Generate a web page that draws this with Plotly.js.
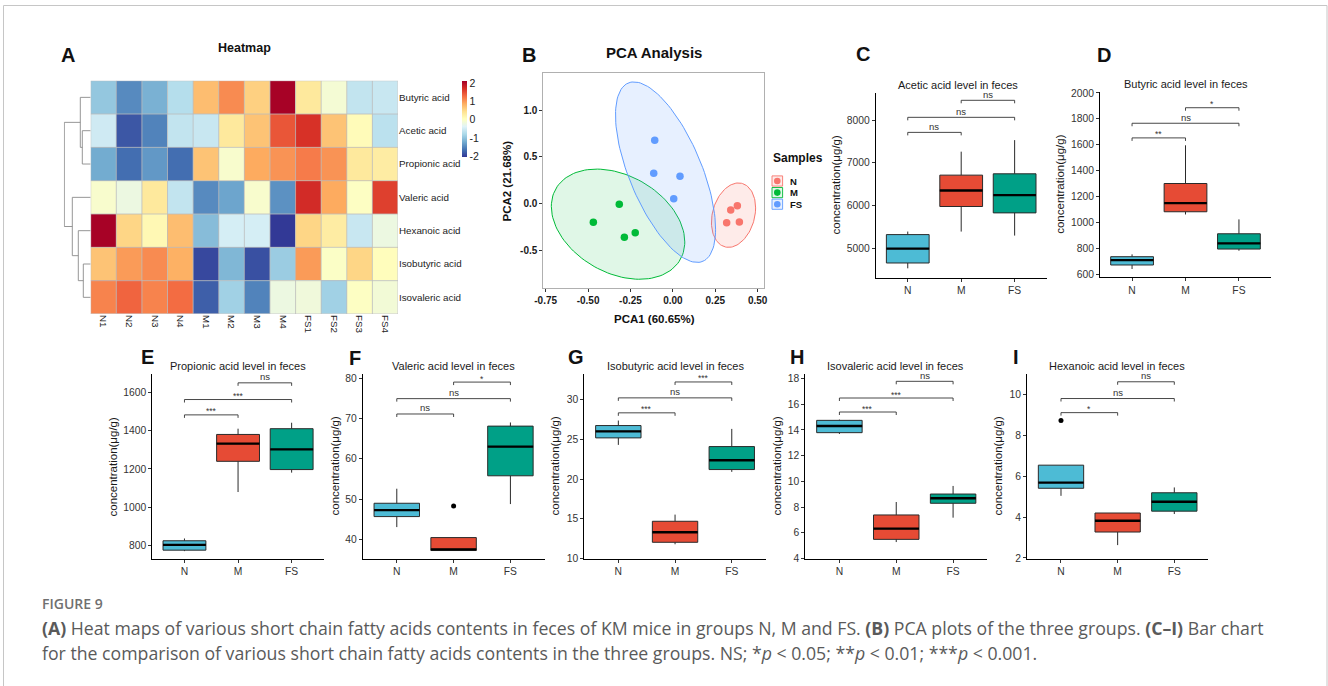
<!DOCTYPE html>
<html><head><meta charset="utf-8">
<script src="https://cdn.plot.ly/plotly-3.0.1.min.js"></script>
<style>html,body{margin:0;padding:0;background:#fff;}#chart{width:1328px;height:686px;}</style>
</head><body><div id="chart"></div>
<script>
// ================= DATA =================
// Heatmap (row z-scores)
const samples = ['N1','N2','N3','N4','M1','M2','M3','M4','FS1','FS2','FS3','FS4'];
const acids = ['Butyric acid','Acetic acid','Propionic acid','Valeric acid','Hexanoic acid','Isobutyric acid','Isovaleric acid'];
const zButyric    = [-0.95,-1.45,-1.15,-0.70, 0.75, 1.10, 0.60, 2.10, 0.35,-0.10,-0.60,-0.55];
const zAcetic     = [-0.50,-1.80,-1.50,-0.60,-0.55, 0.35, 0.70, 1.45, 1.70, 0.70, 0.10,-0.65];
const zPropionic  = [-1.20,-1.65,-1.35,-1.65, 0.70,-0.05, 0.90, 1.05, 1.20, 1.05, 0.35, 0.30];
const zValeric    = [-0.05,-0.20, 0.35,-0.60,-1.45,-1.25,-0.05,-1.40, 1.75, 0.90, 0.02, 1.60];
const zHexanoic   = [ 2.10, 0.55, 0.15, 0.75,-1.05,-0.45,-0.45,-2.00, 0.55, 0.30,-0.55,-0.20];
const zIsobutyric = [ 0.70, 1.00, 1.10, 0.85,-1.90,-1.10,-1.85,-0.90, 1.00, 0.00, 0.55, 0.08];
const zIsovaleric = [ 1.15, 1.35, 1.15, 1.30,-1.75,-0.85,-1.50,-0.20,-0.15,-0.85, 0.02,-0.12];
const zRows = [zButyric,zAcetic,zPropionic,zValeric,zHexanoic,zIsobutyric,zIsovaleric];
// Row dendrogram (hclust-style merges; negative = leaf, 1-based in display order)
const rowMerges  = [[-2,-3],[-1,1],[-6,-7],[-5,3],[-4,4],[2,5]];
const rowHeights = [8.4,10.4,7.4,12.4,18.4,26.4];
const colorTicks = [-2,-1,0,1,2];

// PCA scores
const pcaGroups = ['N','M','FS'];
const pc1N  = [0.317,0.341,0.380,0.392], pc2N  = [-0.205,-0.069,-0.022,-0.197];
const pc1M  = [-0.469,-0.316,-0.286,-0.222], pc2M = [-0.200,-0.007,-0.361,-0.312];
const pc1FS = [-0.107,-0.113,0.042,0.005], pc2FS = [0.678,0.325,0.293,0.053];
const pcaXTicks = [-0.75,-0.5,-0.25,0,0.25,0.5];
const pcaYTicks = [-0.5,0,0.5,1.0];

// Box plots: [N, M, FS]
const groups = ['N','M','FS'];
const aceticStats     = {lo:[4531,5391,5297], q1:[4656,5977,5828], med:[4992,6352,6242], q3:[5320,6711,6742], hi:[5391,7260,7530]};
const butyricStats    = {lo:[641,1062,782],   q1:[672,1083,795],   med:[710,1149,839],   q3:[736,1301,913],   hi:[754,1596,1024]};
const propionicStats  = {lo:[772,1080,1181],  q1:[777,1240,1197],  med:[805,1332,1302],  q3:[826,1380,1410],  hi:[838,1410,1441]};
const valericStats    = {lo:[43.1,37.3,48.8], q1:[45.7,37.3,55.8], med:[47.3,37.6,63.0], q3:[49.0,40.5,68.1], hi:[52.6,40.5,69.0]};
const isobutyricStats = {lo:[24.29,11.80,20.90], q1:[25.17,12.05,21.19], med:[26.0,13.31,22.36], q3:[26.72,14.69,24.08], hi:[27.35,15.53,26.30]};
const isovalericStats = {lo:[13.69,5.27,7.17], q1:[13.79,5.48,8.29], med:[14.31,6.31,8.68], q3:[14.75,7.38,9.01], hi:[14.81,8.39,9.64]};
const hexanoicStats   = {lo:[5.04,2.63,4.15], q1:[5.41,3.27,4.29], med:[5.69,3.82,4.75], q3:[6.54,4.20,5.19], hi:[6.54,4.20,5.45]};
const valericOutliers  = {g:[1], v:[48.3]};
const hexanoicOutliers = {g:[0], v:[8.73]};
// significance brackets: pairs N-M, N-FS, M-FS
const bracketPairs = [[0,1],[0,2],[1,2]];
const aceticBr = [7711,8063,8461],   aceticSig = ['ns','ns','ns'];
const butyricBr = [1653,1766,1886],  butyricSig = ['**','ns','*'];
const propionicBr = [1482,1562,1649],propionicSig = ['***','***','ns'];
const valericBr = [71.1,74.9,79.0],  valericSig = ['ns','ns','*'];
const isobutyricBr = [28.32,30.2,32.2], isobutyricSig = ['***','ns','***'];
const isovalericBr = [15.40,16.49,17.79], isovalericSig = ['***','***','ns'];
const hexanoicBr = [9.11,9.80,10.62], hexanoicSig = ['*','ns','ns'];

// ================= STYLE / LAYOUT =================
const W = 1328, H = 686;
const PX = v => v / W, PY = v => 1 - v / H;
const dom = (a, b) => [PX(a), PX(b)];
const domY = (a, b) => [PY(b), PY(a)];
const FONT = 'Liberation Sans, Arial, Helvetica, sans-serif';
const CAPFONT = 'Open Sans, Lato, sans-serif';
const groupCol = ['#4DBBD5','#E64B35','#00A087'];
const pcaCol = ['#F8766D','#00BA38','#619CFF'];
const pcaFill = ['rgba(248,118,109,0.15)','rgba(0,186,56,0.12)','rgba(97,156,255,0.15)'];
const rdylbu = ['#313695','#4575B4','#74ADD1','#ABD9E9','#E0F3F8','#FFFFBF','#FEE090','#FDAE61','#F46D43','#D73027','#A50026'];

const traces = [], shapes = [], annotations = [];
const layout = {
  width: W, height: H, margin: {l:0,r:0,t:0,b:0}, paper_bgcolor: '#fff', plot_bgcolor: 'rgba(0,0,0,0)',
  showlegend: false, font: {family: FONT, color: '#222'}
};
const ann = (o) => annotations.push(Object.assign({xref:'paper', yref:'paper', showarrow:false, xanchor:'center', yanchor:'middle'}, o));

// ---------- A: heatmap ----------
const heatG = {x:[90.7,398], y:[80.7,314]};
traces.push({
  type:'heatmap', z: zRows, x: samples.map((_, i) => i), y: acids.map((_, j) => j),
  zmin: -2.02, zmax: 2.12, xaxis:'x', yaxis:'y', hoverinfo:'skip',
  colorscale: rdylbu.map((c, i) => [i / (rdylbu.length - 1), c]),
  colorbar: {x: PX(461.5), xanchor:'left', xpad:0, y: PY(118.7), yanchor:'middle', ypad:0,
    len: 76, lenmode:'pixels', thickness: 5, thicknessmode:'pixels', outlinewidth: 0,
    tickvals: colorTicks, ticktext: colorTicks.map(String), ticks:'', ticklabelposition:'outside',
    tickfont:{size:10.5, color:'#222', family:FONT}}
});
layout.xaxis = {domain: dom(...heatG.x), anchor:'y', range:[-0.5, samples.length - 0.5], tickvals: samples.map((_, i) => i),
  ticktext: samples, tickangle: 90, ticks:'', showline:false, showgrid:false, zeroline:false,
  tickfont:{size:9.8, color:'#222'}, fixedrange:true};
layout.yaxis = {domain: domY(...heatG.y), anchor:'x', side:'right', range:[acids.length - 0.5, -0.5],
  tickvals: acids.map((_, j) => j), ticktext: acids, ticks:'', showline:false, showgrid:false, zeroline:false,
  tickfont:{size:9.8, color:'#222'}, fixedrange:true};
// cell borders
for (let i = 0; i <= samples.length; i++)
  shapes.push({type:'line', xref:'x', yref:'y', x0:i-0.5, x1:i-0.5, y0:-0.5, y1:acids.length-0.5, line:{color:'#bcbcbc', width:0.8}});
for (let j = 0; j <= acids.length; j++)
  shapes.push({type:'line', xref:'x', yref:'y', x0:-0.5, x1:samples.length-0.5, y0:j-0.5, y1:j-0.5, line:{color:'#bcbcbc', width:0.8}});
// dendrogram
(function(){
  const pos = [], hgt = [];
  const node = k => k < 0 ? {p: -k - 1, h: 0} : {p: pos[k-1], h: hgt[k-1]};
  const dx = [], dy = [];
  rowMerges.forEach((m, i) => {
    const a = node(m[0]), b = node(m[1]), h = rowHeights[i];
    pos.push((a.p + b.p) / 2); hgt.push(h);
    dx.push(a.h, h, h, b.h, null); dy.push(a.p, a.p, b.p, b.p, null);
  });
  traces.push({type:'scatter', mode:'lines', x: dx, y: dy, xaxis:'x2', yaxis:'y', hoverinfo:'skip',
    line:{color:'#8a8a8a', width:0.9}});
  const maxH = Math.max(...rowHeights);
  layout.xaxis2 = {domain: dom(63.8, 90.7), anchor:'y', range:[maxH + 0.5, 0], visible:false, fixedrange:true};
})();
ann({x: PX(244.7), y: PY(48), text:'<b>Heatmap</b>', font:{size:12.5, color:'#111'}});

// ---------- B: PCA ----------
const pcaG = {x:[543.3,764.3], y:[72.7,288.3]};
const pcaX = [pc1N, pc1M, pc1FS], pcaY = [pc2N, pc2M, pc2FS];
const ellipseK = Math.sqrt(14.1);
pcaGroups.forEach((g, gi) => {
  const xs = pcaX[gi], ys = pcaY[gi], n = xs.length;
  const mx = xs.reduce((s, v) => s + v, 0) / n, my = ys.reduce((s, v) => s + v, 0) / n;
  let sxx = 0, syy = 0, sxy = 0;
  for (let i = 0; i < n; i++) { sxx += (xs[i]-mx)**2; syy += (ys[i]-my)**2; sxy += (xs[i]-mx)*(ys[i]-my); }
  sxx /= n - 1; syy /= n - 1; sxy /= n - 1;
  const l11 = Math.sqrt(sxx), l21 = sxy / l11, l22 = Math.sqrt(syy - l21 * l21);
  const ex = [], ey = [];
  for (let k = 0; k <= 120; k++) {
    const t = 2 * Math.PI * k / 120, u = Math.cos(t), v = Math.sin(t);
    ex.push(mx + ellipseK * l11 * u); ey.push(my + ellipseK * (l21 * u + l22 * v));
  }
  traces.push({type:'scatter', mode:'lines', x: ex, y: ey, xaxis:'x3', yaxis:'y3', fill:'toself',
    fillcolor: pcaFill[gi], line:{color: pcaCol[gi], width:1}, hoverinfo:'skip'});
});
pcaGroups.forEach((g, gi) => {
  traces.push({type:'scatter', mode:'markers', x: pcaX[gi], y: pcaY[gi], xaxis:'x3', yaxis:'y3',
    marker:{color: pcaCol[gi], size: 7.5}, hoverinfo:'skip'});
});
const pcaAxis = {showline:true, mirror:true, linecolor:'#b0b0b0', linewidth:1, ticks:'outside', ticklen:3, tickcolor:'#333',
  showgrid:false, zeroline:false, fixedrange:true, tickfont:{size:10, color:'#1a1a1a', weight:'bold'}};
layout.xaxis3 = Object.assign({domain: dom(...pcaG.x), anchor:'y3', range:[-0.764, 0.539],
  tickvals: pcaXTicks, ticktext: pcaXTicks.map(v => v.toFixed(2))}, pcaAxis);
layout.yaxis3 = Object.assign({domain: domY(...pcaG.y), anchor:'x3', range:[-0.907, 1.403],
  tickvals: pcaYTicks, ticktext: pcaYTicks.map(v => v.toFixed(1))}, pcaAxis);
ann({x: PX(654), y: PY(52), text:'<b>PCA Analysis</b>', font:{size:15, color:'#111'}});
ann({x: PX(654), y: PY(319), text:'<b>PCA1 (60.65%)</b>', font:{size:11.5, color:'#111'}});
ann({x: PX(506.5), y: PY(181), text:'<b>PCA2 (21.68%)</b>', textangle:-90, font:{size:11.5, color:'#111'}});
// legend
ann({x: PX(771.5), xanchor:'left', y: PY(158), text:'<b>Samples</b>', font:{size:12, color:'#111'}});
pcaGroups.forEach((g, gi) => {
  const cy = 181 + gi * 11.6, cx = 777.3;
  shapes.push({type:'rect', xref:'paper', yref:'paper', x0: PX(cx-5.3), x1: PX(cx+5.3), y0: PY(cy+5.1), y1: PY(cy-5.1),
    fillcolor: pcaFill[gi], line:{color: pcaCol[gi], width:0.9}});
  shapes.push({type:'circle', xref:'paper', yref:'paper', x0: PX(cx-3.3), x1: PX(cx+3.3), y0: PY(cy+3.3), y1: PY(cy-3.3),
    fillcolor: pcaCol[gi], line:{width:0}});
  ann({x: PX(788), xanchor:'left', y: PY(cy), text:'<b>' + g + '</b>', font:{size:9.5, color:'#111'}});
});

// ---------- C–I: box plots ----------
const boxPanels = [
  {letter:'C', title:'Acetic acid level in feces', s: aceticStats, br: aceticBr, sig: aceticSig, out: null,
   range:[4312,8625], ticks:[5000,6000,7000,8000], gx:[875.7,1046.7], gy:[93.3,277.7], tx:958, ty:85, ytx:835, lx:863, ly:54},
  {letter:'D', title:'Butyric acid level in feces', s: butyricStats, br: butyricBr, sig: butyricSig, out: null,
   range:[577,2005], ticks:[600,800,1000,1200,1400,1600,1800,2000], gx:[1100,1271], gy:[92.3,277.3], tx:1186, ty:84, ytx:1060, lx:1104, ly:55},
  {letter:'E', title:'Propionic acid level in feces', s: propionicStats, br: propionicBr, sig: propionicSig, out: null,
   range:[731,1695], ticks:[800,1000,1200,1400,1600], gx:[152.3,323.8], gy:[374,559], tx:238, ty:366, ytx:112, lx:147, ly:357},
  {letter:'F', title:'Valeric acid level in feces', s: valericStats, br: valericBr, sig: valericSig, out: valericOutliers,
   range:[35.2,81], ticks:[40,50,60,70,80], gx:[362.7,544.5], gy:[374,559], tx:454, ty:366, ytx:334, lx:355, ly:358},
  {letter:'G', title:'Isobutyric acid level in feces', s: isobutyricStats, br: isobutyricBr, sig: isobutyricSig, out: null,
   range:[9.95,33.2], ticks:[10,15,20,25,30], gx:[584.3,765.8], gy:[374,559], tx:675, ty:366, ytx:554, lx:576, ly:357},
  {letter:'H', title:'Isovaleric acid level in feces', s: isovalericStats, br: isovalericBr, sig: isovalericSig, out: null,
   range:[3.95,18.36], ticks:[4,6,8,10,12,14,16,18], gx:[805.3,987.2], gy:[374,559], tx:896, ty:366, ytx:776, lx:797, ly:357},
  {letter:'I', title:'Hexanoic acid level in feces', s: hexanoicStats, br: hexanoicBr, sig: hexanoicSig, out: hexanoicOutliers,
   range:[1.95,11.0], ticks:[2,4,6,8,10], gx:[1027,1208.3], gy:[374,559], tx:1117, ty:366, ytx:997, lx:1016, ly:357}
];
boxPanels.forEach((p, pi) => {
  const n = pi + 4, xa = 'x' + n, ya = 'y' + n;
  const hpx = p.gy[1] - p.gy[0];
  const unit = (p.range[1] - p.range[0]) / hpx;   // data units per pixel
  groups.forEach((g, gi) => {
    traces.push({type:'box', x:[gi], q1:[p.s.q1[gi]], median:[p.s.med[gi]], q3:[p.s.q3[gi]],
      lowerfence:[p.s.lo[gi]], upperfence:[p.s.hi[gi]], xaxis: xa, yaxis: ya, width: 0.8, whiskerwidth: 0,
      fillcolor: groupCol[gi], line:{color:'#2a2a2a', width:1}, boxpoints:false, hoverinfo:'skip'});
    traces.push({type:'scatter', mode:'lines', x:[gi - 0.4, gi + 0.4], y:[p.s.med[gi], p.s.med[gi]], xaxis: xa, yaxis: ya,
      line:{color:'#000', width:2.3}, hoverinfo:'skip'});
  });
  if (p.out) traces.push({type:'scatter', mode:'markers', x: p.out.g, y: p.out.v, xaxis: xa, yaxis: ya,
    marker:{color:'#000', size:5}, hoverinfo:'skip'});
  const tip = 3 * unit;
  const bx = [], by = [];
  bracketPairs.forEach((pr, k) => {
    const yv = p.br[k];
    bx.push(pr[0], pr[0], pr[1], pr[1], null); by.push(yv - tip, yv, yv, yv - tip, null);
    const star = p.sig[k] !== 'ns';
    annotations.push({xref: xa, yref: ya, x: (pr[0] + pr[1]) / 2, y: yv, xanchor:'center', yanchor:'bottom', showarrow:false,
      text: p.sig[k], yshift: star ? -3.5 : -1.5, font:{size: star ? 8.5 : 9.5, color:'#333'}});
  });
  traces.push({type:'scatter', mode:'lines', x: bx, y: by, xaxis: xa, yaxis: ya, line:{color:'#333', width:0.9}, hoverinfo:'skip'});
  layout['xaxis' + n] = {domain: dom(...p.gx), anchor: ya, range:[-0.6, 2.6], tickvals:[0,1,2], ticktext: groups,
    showline:true, linecolor:'#000', linewidth:1, ticks:'outside', ticklen:3, tickcolor:'#333',
    tickfont:{size:10.3, color:'#333'}, showgrid:false, zeroline:false, fixedrange:true};
  layout['yaxis' + n] = {domain: domY(...p.gy), anchor: xa, range: p.range, tickvals: p.ticks, ticktext: p.ticks.map(String),
    showline:true, linecolor:'#000', linewidth:1, ticks:'outside', ticklen:3, tickcolor:'#333',
    tickfont:{size:10.3, color:'#333'}, showgrid:false, zeroline:false, fixedrange:true};
  ann({x: PX(p.tx), y: PY(p.ty), text: p.title, font:{size:11, color:'#1a1a1a'}});
  ann({x: PX(p.ytx), y: PY((p.gy[0] + p.gy[1]) / 2), text:'concentration(μg/g)', textangle:-90, font:{size:11.5, color:'#1a1a1a'}});
  ann({x: PX(p.lx), y: PY(p.ly), text:'<b>' + p.letter + '</b>', font:{size:20, color:'#111'}});
});
ann({x: PX(68), y: PY(55), text:'<b>A</b>', font:{size:20, color:'#111'}});
ann({x: PX(529), y: PY(55), text:'<b>B</b>', font:{size:20, color:'#111'}});

// ---------- caption & frame ----------
shapes.push({type:'rect', xref:'paper', yref:'paper', x0: PX(3.5), x1: PX(1327), y0: PY(700), y1: PY(5.5),
  line:{color:'#c6c6c6', width:1}, fillcolor:'rgba(0,0,0,0)'});
ann({x: PX(40), xanchor:'left', y: PY(603), text:'FIGURE 9', font:{family: CAPFONT, size:14, color:'#707070', weight:600}});
ann({x: PX(40), xanchor:'left', y: PY(627.5), font:{family: CAPFONT, size:17.7, color:'#5a5a5a'},
  text:'<b>(A)</b> Heat maps of various short chain fatty acids contents in feces of KM mice in groups N, M and FS. <b>(B)</b> PCA plots of the three groups. <b>(C–I)</b> Bar chart'});
ann({x: PX(40), xanchor:'left', y: PY(652.5), font:{family: CAPFONT, size:17.7, color:'#5a5a5a'},
  text:'for the comparison of various short chain fatty acids contents in the three groups. NS; *<i>p</i> &lt; 0.05; **<i>p</i> &lt; 0.01; ***<i>p</i> &lt; 0.001.'});

layout.shapes = shapes;
layout.annotations = annotations;
Plotly.newPlot('chart', traces, layout, {staticPlot:true, displayModeBar:false});
</script></body></html>
